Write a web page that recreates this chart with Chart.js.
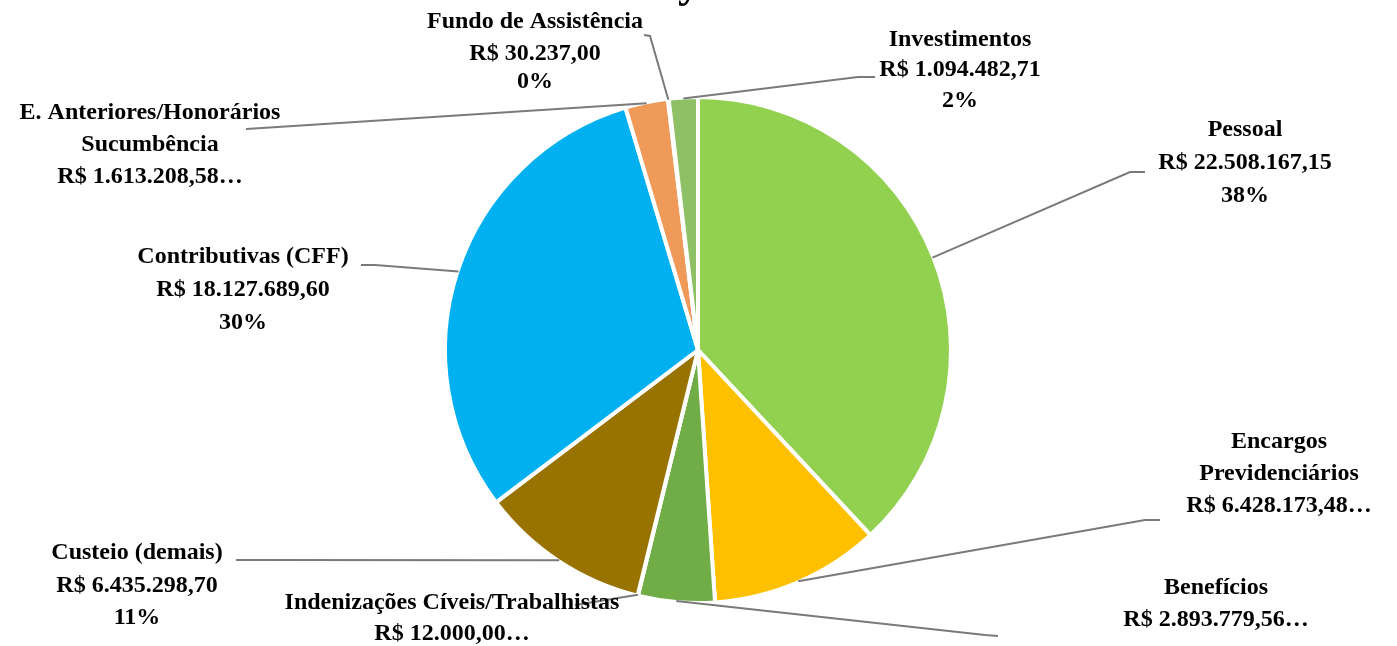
<!DOCTYPE html>
<html>
<head>
    <meta name="viewport" content="width=device-width, initial-scale=1">
    <script src="https://cdn.jsdelivr.net/npm/chart.js"></script>
    <title>Despesas</title>
    <style>
        html, body { margin: 0; padding: 0; background: #fff; }
        #wrap { width: 1397px; height: 646px; position: relative; }
    </style>
</head>
<body>
<div id="wrap"><canvas id="pieChart" width="1397" height="646"></canvas></div>

<script>
    // slices, clockwise from 12 o'clock
    var categories = [
        ['Pessoal'],
        ['Encargos', 'Previdenciários'],
        ['Benefícios'],
        ['Indenizações Cíveis/Trabalhistas'],
        ['Custeio (demais)'],
        ['Contributivas (CFF)'],
        ['E. Anteriores/Honorários', 'Sucumbência'],
        ['Fundo de Assistência'],
        ['Investimentos']
    ];
    var values = [22508167.15, 6428173.48, 2893779.56, 12000.00, 6435298.70, 18127689.60, 1613208.58, 30237.00, 1094482.71];
    // percentages as printed on the chart; null = Excel cut the label short ("…")
    var percentLabels = ['38%', null, null, null, '11%', '30%', null, '0%', '2%'];
    var colors = ['#92D050', '#FFC000', '#70AD47', '#5B9BD5', '#997300', '#00B0F0', '#F09A5A', '#A5A5A5', '#8EC166'];

    var fmtBRL = function(v){
        var parts = v.toFixed(2).split('.');
        var ints = parts[0].replace(/\B(?=(\d{3})+(?!\d))/g, '.');
        return 'R$ ' + ints + ',' + parts[1];
    }

    // where each label sits (center x, y of each line) and the elbow of its leader line
    var labelLayout = [
        {x: 1245, y: [130, 163, 196], elbow: [1130, 172], end: [1145, 172]},
        {x: 1279, y: [442, 474, 506], elbow: [1145, 520], end: [1160, 520]},
        {x: 1216, y: [588, 620],      elbow: [985, 635],  end: [998, 636]},
        {x: 452,  y: [603, 634],      elbow: [575, 605],  end: [575, 605]},
        {x: 137,  y: [553, 586, 618], elbow: [250, 560],  end: [236, 560]},
        {x: 243,  y: [257, 290, 323], elbow: [375, 265],  end: [361, 265]},
        {x: 150,  y: [113, 145, 177], elbow: [262, 128],  end: [246, 129]},
        {x: 535,  y: [22, 54, 82],    elbow: [650, 36],   end: [644, 35]},
        {x: 960,  y: [40, 70, 101],   elbow: [858, 77],   end: [875, 77]}
    ];

    var labelPlugin = {
        id: 'excelLabels',
        afterDraw: function(chart){
            var ctx = chart.ctx;
            var arcs = chart.getDatasetMeta(0).data;
            ctx.save();
            // leader lines
            ctx.strokeStyle = '#7A7A7A';
            ctx.lineWidth = 2;
            for (var i = 0; i < arcs.length; i++){
                var a = arcs[i];
                var mid = (a.startAngle + a.endAngle) / 2;
                var r = a.outerRadius - 1;
                var sx = a.x + Math.cos(mid) * r;
                var sy = a.y + Math.sin(mid) * r;
                var L = labelLayout[i];
                ctx.beginPath();
                ctx.moveTo(sx, sy);
                ctx.lineTo(L.elbow[0], L.elbow[1]);
                ctx.lineTo(L.end[0], L.end[1]);
                ctx.stroke();
            }
            // texts
            ctx.fillStyle = '#000';
            ctx.font = 'bold 24px "Liberation Serif", serif';
            ctx.textAlign = 'center';
            ctx.textBaseline = 'middle';
            for (var j = 0; j < arcs.length; j++){
                var lines = categories[j].slice();
                if (percentLabels[j]){
                    lines.push(fmtBRL(values[j]));
                    lines.push(percentLabels[j]);
                } else {
                    lines.push(fmtBRL(values[j]) + '…');
                }
                var LL = labelLayout[j];
                for (var k = 0; k < lines.length && k < LL.y.length; k++){
                    ctx.fillText(lines[k], LL.x, LL.y[k]);
                }
            }
            // bottom of the cut-off title
            ctx.font = 'bold 44px "Liberation Serif", serif';
            ctx.textBaseline = 'alphabetic';
            ctx.textAlign = 'left';
            ctx.fillText('y', 678, -3);
            ctx.restore();
        }
    };

    var ctx = document.getElementById('pieChart');
    var pieChart = new Chart(ctx, {
        type: 'pie',
        data: {
            labels: categories.map(function(c){ return c.join(' '); }),
            datasets: [{
                data: values,
                backgroundColor: colors,
                borderColor: '#FFFFFF',
                borderWidth: 4
            }]
        },
        options: {
            responsive: false,
            animation: false,
            layout: {
                padding: {top: 95, bottom: 41, left: 443, right: 444}
            },
            plugins: {
                legend: {display: false},
                tooltip: {enabled: false}
            }
        },
        plugins: [labelPlugin]
    });
</script>
</body>
</html>
